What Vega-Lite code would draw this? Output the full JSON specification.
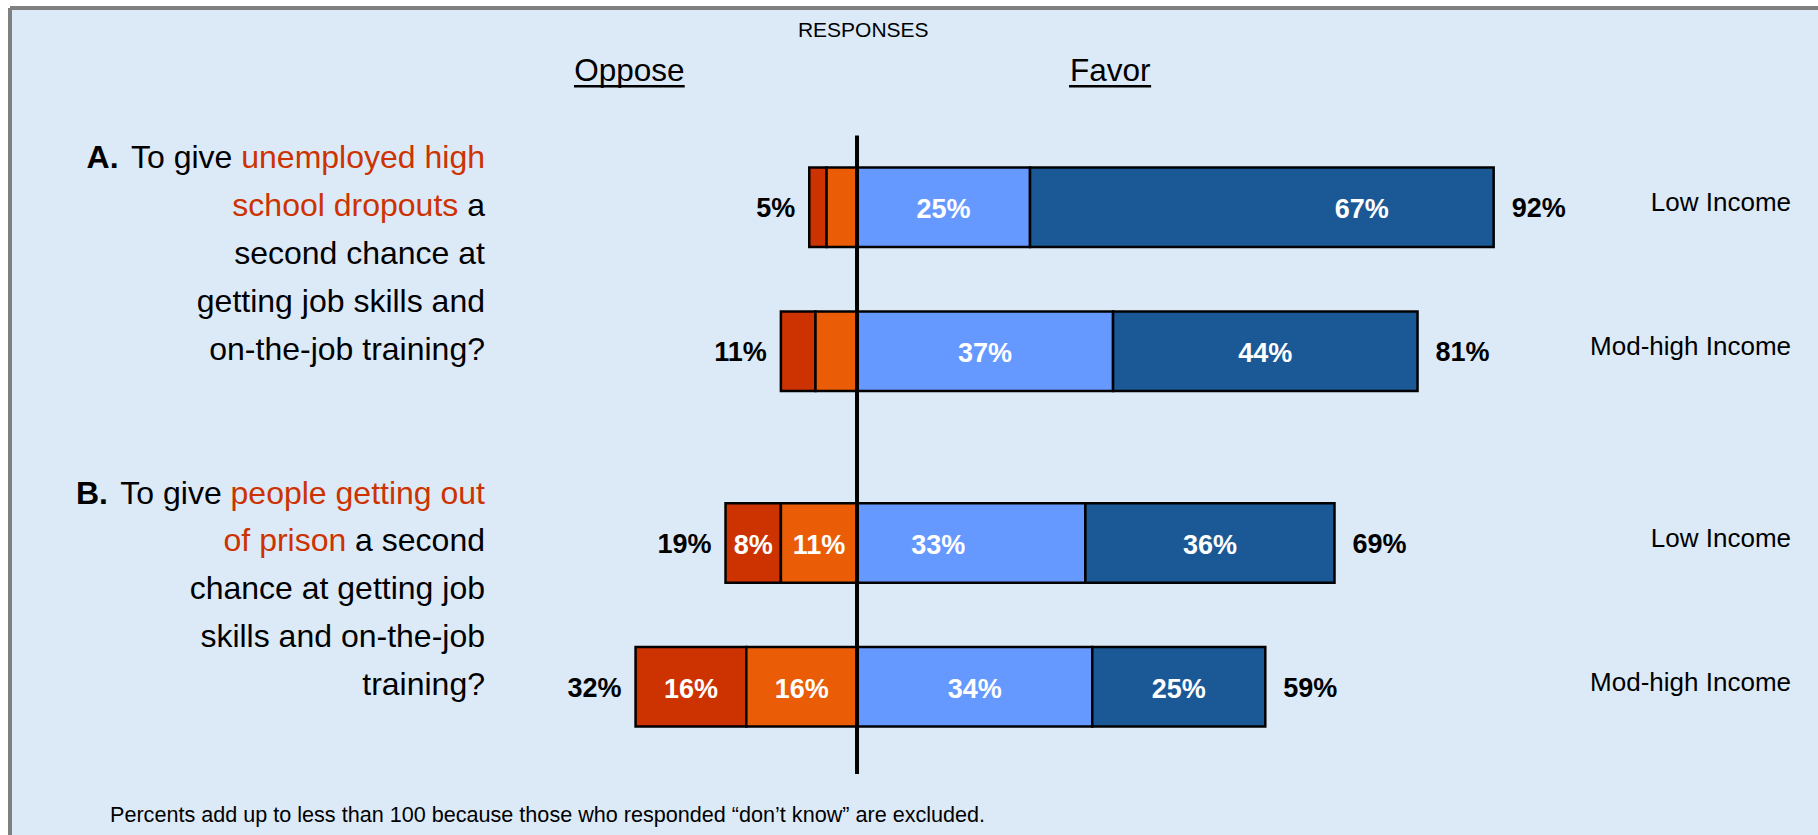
{
  "$schema": "https://vega.github.io/schema/vega-lite/v6.json",
  "width": 1818,
  "height": 835,
  "autosize": {"type": "fit", "contains": "padding"},
  "padding": {"left": 10, "top": 8, "right": 0, "bottom": 0},
  "background": "white",
  "config": {
    "view": {"fill": "#DCEAF8", "stroke": "#808080", "strokeWidth": 4, "strokeDash": [1808, 2635, 827, 0]},
    "axis": {"disable": true},
    "legend": {"disable": true},
    "text": {"font": "Liberation Sans"}
  },
  "datasets": {
    "segments": [
      {"row": "A Low", "seg": "Strongly oppose", "k": 2, "v": -2.5, "lab": "", "total": "5%"},
      {"row": "A Low", "seg": "Somewhat oppose", "k": 1, "v": -4.4, "lab": "", "total": ""},
      {"row": "A Low", "seg": "Somewhat favor", "k": 1, "v": 25, "lab": "25%", "total": ""},
      {"row": "A Low", "seg": "Strongly favor", "k": 2, "v": 67, "lab": "67%", "total": "92%"},
      {"row": "A Mod", "seg": "Strongly oppose", "k": 2, "v": -5, "lab": "", "total": "11%"},
      {"row": "A Mod", "seg": "Somewhat oppose", "k": 1, "v": -6, "lab": "", "total": ""},
      {"row": "A Mod", "seg": "Somewhat favor", "k": 1, "v": 37, "lab": "37%", "total": ""},
      {"row": "A Mod", "seg": "Strongly favor", "k": 2, "v": 44, "lab": "44%", "total": "81%"},
      {"row": "B Low", "seg": "Strongly oppose", "k": 2, "v": -8, "lab": "8%", "total": "19%"},
      {"row": "B Low", "seg": "Somewhat oppose", "k": 1, "v": -11, "lab": "11%", "total": ""},
      {"row": "B Low", "seg": "Somewhat favor", "k": 1, "v": 33, "lab": "33%", "total": ""},
      {"row": "B Low", "seg": "Strongly favor", "k": 2, "v": 36, "lab": "36%", "total": "69%"},
      {"row": "B Mod", "seg": "Strongly oppose", "k": 2, "v": -16, "lab": "16%", "total": "32%"},
      {"row": "B Mod", "seg": "Somewhat oppose", "k": 1, "v": -16, "lab": "16%", "total": ""},
      {"row": "B Mod", "seg": "Somewhat favor", "k": 1, "v": 34, "lab": "34%", "total": ""},
      {"row": "B Mod", "seg": "Strongly favor", "k": 2, "v": 25, "lab": "25%", "total": "59%"}
    ],
    "rows": [
      {"row": "A Low", "income": "Low Income"},
      {"row": "A Mod", "income": "Mod-high Income"},
      {"row": "B Low", "income": "Low Income"},
      {"row": "B Mod", "income": "Mod-high Income"}
    ],
    "labels": [
      {"id": "responses", "text": "RESPONSES"},
      {"id": "oppose", "text": "Oppose"},
      {"id": "favor", "text": "Favor"},
      {"id": "note", "text": "Percents  add up to less than 100 because those who responded “don’t know” are excluded."}
    ],
    "qtext": [
      {"row": "A-l1", "part": "lead", "text": "A."},
      {"row": "A-l1", "part": "mid", "text": "To give"},
      {"row": "A-l1", "part": "hl", "text": "unemployed high"},
      {"row": "A Low", "part": "hl", "text": "school dropouts"},
      {"row": "A Low", "part": "tail", "text": "a"},
      {"row": "A-l3", "part": "tail", "text": "second chance at"},
      {"row": "A-l4", "part": "tail", "text": "getting job skills and"},
      {"row": "A Mod", "part": "tail", "text": "on-the-job training?"},
      {"row": "B-l1", "part": "lead", "text": "B."},
      {"row": "B-l1", "part": "mid", "text": "To give"},
      {"row": "B-l1", "part": "hl", "text": "people getting out"},
      {"row": "B Low", "part": "hl", "text": "of prison"},
      {"row": "B Low", "part": "tail", "text": "a second"},
      {"row": "B-l3", "part": "tail", "text": "chance at getting job"},
      {"row": "B-l4", "part": "tail", "text": "skills and on-the-job"},
      {"row": "B Mod", "part": "tail", "text": "training?"}
    ]
  },
  "layer": [
    {
      "data": {"name": "segments"},
      "mark": {"type": "bar", "height": 79.5, "stroke": "black", "strokeWidth": 2.5},
      "encoding": {
        "y": {"field": "row", "type": "nominal", "axis": null,
          "scale": {"domain": ["head", "pad1", "A-l1", "A Low", "A-l3", "A-l4", "A Mod", "pad7", "pad8", "B-l1", "B Low", "B-l3", "B-l4", "B Mod", "pad14", "foot"],
            "paddingInner": 0, "paddingOuter": 0.6235, "align": 0.527, "round": false}},
        "x": {"field": "v", "type": "quantitative", "stack": "zero", "axis": null,
          "scale": {"domain": [-122.4, 138.87], "nice": false, "zero": false}},
        "color": {"field": "seg", "type": "nominal", "legend": null,
          "scale": {"domain": ["Strongly oppose", "Somewhat oppose", "Somewhat favor", "Strongly favor"],
            "range": ["#CC3300", "#EA5D06", "#6699FF", "#1B5996"]}},
        "order": {"field": "k"}
      }
    },
    {
      "data": {"name": "labels"},
      "transform": [{"filter": "datum.id == 'responses'"}],
      "mark": {"type": "rule", "strokeWidth": 4, "color": "black"},
      "encoding": {
        "x": {"datum": 0},
        "y": {"datum": "A-l1", "type": "nominal", "bandPosition": 0},
        "y2": {"datum": "foot", "bandPosition": 0.32}
      }
    },
    {
      "data": {"name": "segments"},
      "mark": {"type": "text", "color": "white", "fontWeight": "bold", "fontSize": 27, "dy": 3},
      "encoding": {
        "y": {"field": "row", "type": "nominal"},
        "x": {"field": "v", "type": "quantitative", "stack": "zero", "bandPosition": 0.5},
        "detail": {"field": "seg"},
        "order": {"field": "k"},
        "text": {"condition": {"test": "datum.lab != '67%' && datum.lab != '33%'", "field": "lab"}, "value": ""}
      }
    },
    {
      "data": {"name": "segments"},
      "mark": {"type": "text", "color": "white", "fontWeight": "bold", "fontSize": 27, "dy": 3, "dx": 100},
      "encoding": {
        "y": {"field": "row", "type": "nominal"},
        "x": {"field": "v", "type": "quantitative", "stack": "zero", "bandPosition": 0.5},
        "detail": {"field": "seg"},
        "order": {"field": "k"},
        "text": {"condition": {"test": "datum.lab == '67%'", "field": "lab"}, "value": ""}
      }
    },
    {
      "data": {"name": "segments"},
      "mark": {"type": "text", "color": "white", "fontWeight": "bold", "fontSize": 27, "dy": 3, "dx": -33},
      "encoding": {
        "y": {"field": "row", "type": "nominal"},
        "x": {"field": "v", "type": "quantitative", "stack": "zero", "bandPosition": 0.5},
        "detail": {"field": "seg"},
        "order": {"field": "k"},
        "text": {"condition": {"test": "datum.lab == '33%'", "field": "lab"}, "value": ""}
      }
    },
    {
      "data": {"name": "segments"},
      "mark": {"type": "text", "color": "black", "fontWeight": "bold", "fontSize": 27, "dy": 2, "dx": -14, "align": "right"},
      "encoding": {
        "y": {"field": "row", "type": "nominal"},
        "x": {"field": "v", "type": "quantitative", "stack": "zero"},
        "detail": {"field": "seg"},
        "order": {"field": "k"},
        "text": {"condition": {"test": "datum.seg == 'Strongly oppose'", "field": "total"}, "value": ""}
      }
    },
    {
      "data": {"name": "segments"},
      "mark": {"type": "text", "color": "black", "fontWeight": "bold", "fontSize": 27, "dy": 2, "dx": 18, "align": "left"},
      "encoding": {
        "y": {"field": "row", "type": "nominal"},
        "x": {"field": "v", "type": "quantitative", "stack": "zero"},
        "detail": {"field": "seg"},
        "order": {"field": "k"},
        "text": {"condition": {"test": "datum.seg == 'Strongly favor'", "field": "total"}, "value": ""}
      }
    },
    {
      "data": {"name": "rows"},
      "mark": {"type": "text", "color": "black", "fontSize": 26, "dy": -4, "align": "right"},
      "encoding": {
        "y": {"field": "row", "type": "nominal"},
        "x": {"datum": 134.97},
        "text": {"field": "income"}
      }
    },
    {
      "data": {"name": "labels"},
      "transform": [{"filter": "datum.id == 'responses'"}],
      "mark": {"type": "text", "color": "black", "fontSize": 21, "baseline": "alphabetic", "dy": -26.2, "align": "center"},
      "encoding": {"x": {"datum": 0.9}, "y": {"datum": "head", "type": "nominal"}, "text": {"field": "text"}}
    },
    {
      "data": {"name": "labels"},
      "transform": [{"filter": "datum.id == 'oppose'"}],
      "mark": {"type": "text", "color": "black", "fontSize": 31.5, "baseline": "alphabetic", "dy": 17.2, "align": "center"},
      "encoding": {"x": {"datum": -32.9}, "y": {"datum": "head", "type": "nominal"}, "text": {"field": "text"}}
    },
    {
      "data": {"name": "labels"},
      "transform": [{"filter": "datum.id == 'favor'"}],
      "mark": {"type": "text", "color": "black", "fontSize": 31.5, "baseline": "alphabetic", "dy": 17.2, "align": "center"},
      "encoding": {"x": {"datum": 36.6}, "y": {"datum": "head", "type": "nominal"}, "text": {"field": "text"}}
    },
    {
      "data": {"name": "labels"},
      "transform": [{"filter": "datum.id == 'oppose'"}],
      "mark": {"type": "rule", "color": "black", "strokeWidth": 2.5, "yOffset": 22.7},
      "encoding": {"x": {"datum": -40.9}, "x2": {"datum": -24.9}, "y": {"datum": "head", "type": "nominal"}}
    },
    {
      "data": {"name": "labels"},
      "transform": [{"filter": "datum.id == 'favor'"}],
      "mark": {"type": "rule", "color": "black", "strokeWidth": 2.5, "yOffset": 22.7},
      "encoding": {"x": {"datum": 30.64}, "x2": {"datum": 42.5}, "y": {"datum": "head", "type": "nominal"}}
    },
    {
      "data": {"name": "labels"},
      "transform": [{"filter": "datum.id == 'note'"}],
      "mark": {"type": "text", "color": "black", "fontSize": 21.6, "baseline": "middle", "dy": 33, "align": "left"},
      "encoding": {"x": {"datum": -107.95}, "y": {"datum": "foot", "type": "nominal"}, "text": {"field": "text"}}
    },
    {
      "data": {"name": "qtext"},
      "transform": [{"filter": "datum.part == 'tail'"}],
      "mark": {"type": "text", "color": "black", "fontSize": 32, "baseline": "alphabetic", "dy": 8.5, "align": "right"},
      "encoding": {"x": {"datum": -53.76}, "y": {"field": "row", "type": "nominal"}, "text": {"field": "text"}}
    },
    {
      "data": {"name": "qtext"},
      "transform": [{"filter": "datum.part == 'hl' && (datum.row == 'A-l1' || datum.row == 'B-l1')"}],
      "mark": {"type": "text", "color": "#CC3300", "fontSize": 32, "baseline": "alphabetic", "dy": 8.5, "align": "right"},
      "encoding": {"x": {"datum": -53.76}, "y": {"field": "row", "type": "nominal"}, "text": {"field": "text"}}
    },
    {
      "data": {"name": "qtext"},
      "transform": [{"filter": "datum.part == 'hl' && datum.row == 'A Low'"}],
      "mark": {"type": "text", "color": "#CC3300", "fontSize": 32, "baseline": "alphabetic", "dy": 8.5, "dx": -26.7, "align": "right"},
      "encoding": {"x": {"datum": -53.76}, "y": {"field": "row", "type": "nominal"}, "text": {"field": "text"}}
    },
    {
      "data": {"name": "qtext"},
      "transform": [{"filter": "datum.part == 'hl' && datum.row == 'B Low'"}],
      "mark": {"type": "text", "color": "#CC3300", "fontSize": 32, "baseline": "alphabetic", "dy": 8.5, "dx": -138.7, "align": "right"},
      "encoding": {"x": {"datum": -53.76}, "y": {"field": "row", "type": "nominal"}, "text": {"field": "text"}}
    },
    {
      "data": {"name": "qtext"},
      "transform": [{"filter": "datum.part == 'mid' && datum.row == 'A-l1'"}],
      "mark": {"type": "text", "color": "black", "fontSize": 32, "baseline": "alphabetic", "dy": 8.5, "dx": -252.6, "align": "right"},
      "encoding": {"x": {"datum": -53.76}, "y": {"field": "row", "type": "nominal"}, "text": {"field": "text"}}
    },
    {
      "data": {"name": "qtext"},
      "transform": [{"filter": "datum.part == 'mid' && datum.row == 'B-l1'"}],
      "mark": {"type": "text", "color": "black", "fontSize": 32, "baseline": "alphabetic", "dy": 8.5, "dx": -263.3, "align": "right"},
      "encoding": {"x": {"datum": -53.76}, "y": {"field": "row", "type": "nominal"}, "text": {"field": "text"}}
    },
    {
      "data": {"name": "qtext"},
      "transform": [{"filter": "datum.part == 'lead' && datum.row == 'A-l1'"}],
      "mark": {"type": "text", "color": "black", "fontWeight": "bold", "fontSize": 32, "baseline": "alphabetic", "dy": 8.5, "dx": -366.4, "align": "right"},
      "encoding": {"x": {"datum": -53.76}, "y": {"field": "row", "type": "nominal"}, "text": {"field": "text"}}
    },
    {
      "data": {"name": "qtext"},
      "transform": [{"filter": "datum.part == 'lead' && datum.row == 'B-l1'"}],
      "mark": {"type": "text", "color": "black", "fontWeight": "bold", "fontSize": 32, "baseline": "alphabetic", "dy": 8.5, "dx": -377.1, "align": "right"},
      "encoding": {"x": {"datum": -53.76}, "y": {"field": "row", "type": "nominal"}, "text": {"field": "text"}}
    }
  ]
}
